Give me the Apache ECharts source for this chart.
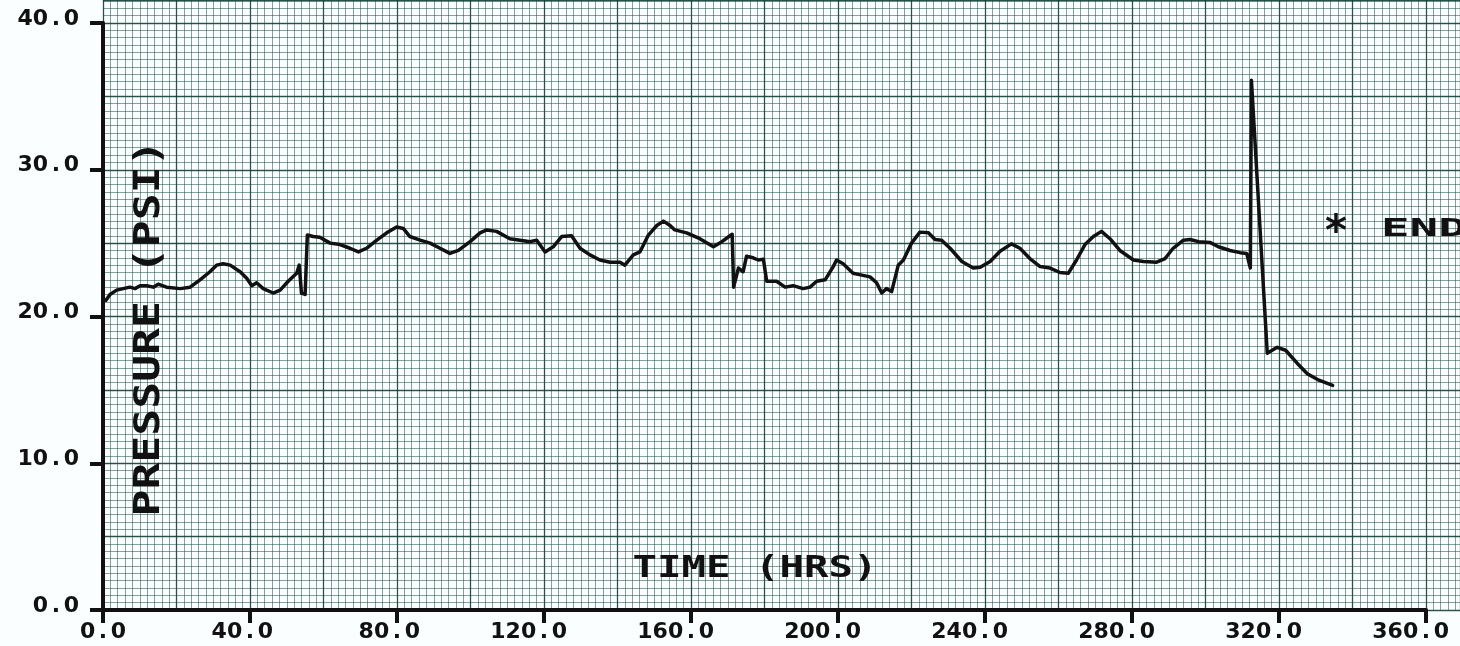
<!DOCTYPE html>
<html><head><meta charset="utf-8">
<script src="https://cdn.jsdelivr.net/npm/echarts@6/dist/echarts.min.js"></script>
<style>html,body{margin:0;padding:0;background:#fbfefe}#c{width:1460px;height:646px}</style>
</head><body><div id="c"></div>
<script>
// ---- data ----
const timeHrs = [0.8,1.9,3.7,5.5,7.3,8.7,10.1,11.9,13.7,15.0,17.3,21.0,23.7,26.4,29.1,30.9,32.7,34.6,37.3,39.1,
  40.5,41.8,43.6,46.3,48.2,50.4,52.7,53.4,54.0,55.0,55.6,57.2,59.0,61.8,64.5,67.2,69.5,71.7,74.5,77.2,
  79.9,81.7,83.5,86.3,89.0,91.7,94.4,96.7,99.9,102.6,104.4,107.1,110.7,113.5,116.2,118.0,120.3,122.5,124.8,127.5,
  129.8,132.5,135.2,138.0,140.7,142.0,144.3,146.1,148.4,150.7,152.5,154.3,155.6,158.8,162.4,166.1,168.4,170.6,171.2,171.6,
  172.9,174.2,175.1,176.9,178.3,179.7,180.6,183.3,185.6,187.8,190.5,192.4,194.2,196.5,198.7,199.6,201.4,204.1,206.8,208.7,
  210.5,211.9,213.2,214.6,216.4,217.8,220.0,222.3,224.6,226.4,228.2,230.5,233.7,236.8,238.7,241.4,244.1,247.2,249.5,252.2,
  255.0,257.7,260.4,262.7,264.9,267.2,269.5,271.7,274.0,276.7,280.4,283.1,286.7,289.0,291.2,294.0,295.8,298.1,301.2,303.5,
  306.7,309.4,311.2,311.6,312.2,312.5,316.8,319.5,321.8,325.0,327.7,330.5,334.6];
const pressurePsi = [21.1,21.5,21.8,21.9,22.0,21.9,22.1,22.1,22.0,22.2,22.0,21.9,22.0,22.5,23.05,23.5,23.6,23.5,23.05,22.6,
  22.1,22.3,21.9,21.6,21.8,22.4,22.95,23.5,21.6,21.5,25.55,25.45,25.4,25.0,24.9,24.65,24.4,24.65,25.2,25.7,
  26.1,26.0,25.45,25.2,25.0,24.65,24.3,24.5,25.1,25.7,25.9,25.8,25.3,25.2,25.1,25.2,24.4,24.75,25.45,25.5,
  24.65,24.2,23.85,23.7,23.7,23.5,24.2,24.4,25.55,26.2,26.5,26.2,25.9,25.7,25.3,24.75,25.1,25.5,25.6,22.0,
  23.3,23.05,24.1,24.0,23.85,23.9,22.4,22.4,22.0,22.1,21.9,22.0,22.4,22.5,23.4,23.85,23.6,22.95,22.8,22.7,
  22.3,21.6,21.9,21.7,23.5,23.85,25.0,25.75,25.7,25.25,25.2,24.65,23.75,23.3,23.35,23.75,24.45,24.95,24.65,23.95,
  23.4,23.3,23.0,22.95,23.85,24.9,25.45,25.8,25.3,24.5,23.85,23.75,23.7,23.95,24.65,25.2,25.25,25.1,25.05,24.75,
  24.5,24.35,24.3,24.4,23.3,36.1,17.5,17.9,17.7,16.8,16.1,15.7,15.3];
const xTickValues = [0,40,80,120,160,200,240,280,320,360];
const yTickValues = [0,10,20,30,40];
const xTitle = 'TIME (HRS)';
const yTitle = 'PRESSURE (PSI)';
const endMark = '*';
const endText = 'END';

// ---- helpers ----
const INK = '#111';
const FONT = 'DejaVu Sans';
const MONO = 'DejaVu Sans Mono';
function cells(str, key) {
  return str.split('').map(c => '{' + key + '|' + c + '}').join('');
}
function cellStyle(size, w, color) {
  return { fontFamily: FONT, fontWeight: 'bold', fontSize: size, width: w, align: 'center', color: color };
}

const G = { left: 103, right: 34, top: 23, bottom: 36 };
const W = 1460, H = 646;
const xMin = xTickValues[0], xMax = xTickValues[xTickValues.length - 1];
const yMin = yTickValues[0], yMax = yTickValues[yTickValues.length - 1];
const xStep = xTickValues[1] - xTickValues[0];
const yStep = yTickValues[1] - yTickValues[0];
const paperXMax = xMax * (W - G.left) / (W - G.left - G.right);
const paperYMax = yMax * (H - G.bottom) / (H - G.top - G.bottom);

const minorLine = { show: true, lineStyle: { color: 'rgba(35,85,72,0.55)', width: 1 } };
const majorLine = { show: true, lineStyle: { color: 'rgba(20,65,55,0.82)', width: 1.3 } };
const hidden = { axisLine: { show: false }, axisTick: { show: false }, axisLabel: { show: false } };

function titleText(str, x, y, size, targetW, rot) {
  const natural = str.length * 0.602 * size;
  return { type: 'text', x: x, y: y, rotation: rot || 0, scaleX: targetW / natural, scaleY: 1, z: 10,
    style: { text: str, font: 'bold ' + size + 'px "' + MONO + '"', fill: INK,
      align: 'center', verticalAlign: 'middle', textAlign: 'center', textVerticalAlign: 'middle' } };
}

const chart = echarts.init(document.getElementById('c'), null, { renderer: 'canvas' });
chart.setOption({
  backgroundColor: '#fbfefe',
  animation: false,
  grid: [
    { left: G.left, right: G.right, top: G.top, bottom: G.bottom, outerBoundsMode: 'none', containLabel: false },
    { left: G.left, right: 0, top: 0, bottom: G.bottom, outerBoundsMode: 'none', containLabel: false }
  ],
  xAxis: [
    { type: 'value', gridIndex: 0, min: xMin, max: xMax, interval: xStep, z: 5,
      axisLine: { show: true, lineStyle: { color: INK, width: 4 } },
      axisTick: { show: true, length: 13, lineStyle: { color: INK, width: 4 } },
      splitLine: { show: false },
      axisLabel: { margin: 11, color: INK,
        formatter: v => { const n = String(v).length; return cells(v.toFixed(1), 'd') + (n > 1 ? cells('0'.repeat(n - 1), 'h') : ''); },
        rich: { d: cellStyle(22, 15.4, INK), h: cellStyle(22, 15.4, 'transparent') } } },
    Object.assign({ type: 'value', gridIndex: 1, min: 0, max: paperXMax, interval: 2, splitLine: minorLine, z: 0 }, hidden),
    Object.assign({ type: 'value', gridIndex: 1, min: 0, max: paperXMax, interval: 20, splitLine: majorLine, z: 1 }, hidden)
  ],
  yAxis: [
    { type: 'value', gridIndex: 0, min: yMin, max: yMax, interval: yStep, z: 5,
      axisLine: { show: true, lineStyle: { color: INK, width: 4 } },
      axisTick: { show: true, length: 13, lineStyle: { color: INK, width: 4 } },
      splitLine: { show: false },
      axisLabel: { margin: 24, color: INK, padding: [0, 0, 8, 0],
        formatter: v => cells(v.toFixed(1), 'd'),
        rich: { d: cellStyle(22, 15.4, INK) } } },
    Object.assign({ type: 'value', gridIndex: 1, min: 0, max: paperYMax, interval: 0.5, splitLine: minorLine, z: 0 }, hidden),
    Object.assign({ type: 'value', gridIndex: 1, min: 0, max: paperYMax, interval: 5, splitLine: majorLine, z: 1 }, hidden)
  ],
  series: [{
    type: 'line', xAxisIndex: 0, yAxisIndex: 0, z: 4,
    data: timeHrs.map((t, i) => [t, pressurePsi[i]]),
    showSymbol: false, symbol: 'none',
    lineStyle: { color: INK, width: 3.5, join: 'round', cap: 'round' }
  }],
  graphic: [
    titleText(yTitle, 150, 328, 36, 377, Math.PI / 2),
    titleText(xTitle, 755, 569, 31, 245, 0),
    { type: 'text', x: 1336, y: 234, z: 10,
      style: { text: endMark, font: 'bold 42px "' + FONT + '"', fill: INK,
        align: 'center', verticalAlign: 'middle', textAlign: 'center', textVerticalAlign: 'middle' } },
    { type: 'text', x: 1381, y: 229, scaleX: 1.9, z: 10,
      style: { text: endText, font: 'bold 25px "' + MONO + '"', fill: INK,
        align: 'left', verticalAlign: 'middle', textAlign: 'left', textVerticalAlign: 'middle' } }
  ]
});
</script></body></html>
